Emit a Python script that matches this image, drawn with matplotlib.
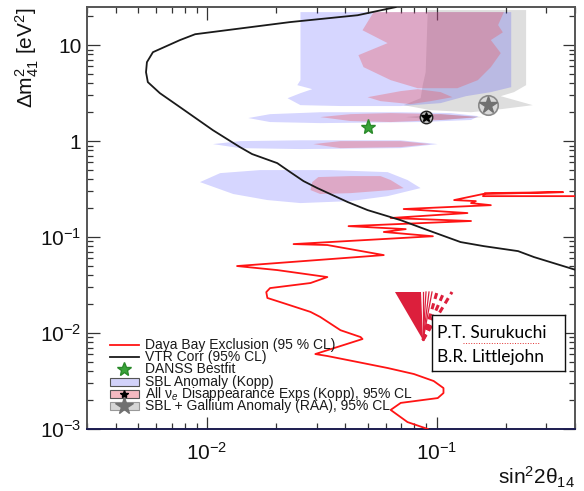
import numpy as np
import matplotlib
matplotlib.use("Agg")
import matplotlib.pyplot as plt
from matplotlib.patches import Polygon, Rectangle
from matplotlib.lines import Line2D
from matplotlib.ticker import LogLocator, FuncFormatter, NullFormatter

plt.rcParams['font.family'] = ['Liberation Sans', 'DejaVu Sans']
plt.rcParams['mathtext.fontset'] = 'custom'
plt.rcParams['mathtext.rm'] = 'Liberation Sans'
plt.rcParams['mathtext.it'] = 'Liberation Sans:italic'
plt.rcParams['mathtext.bf'] = 'Liberation Sans:bold'

# --- Daya Bay exclusion contour (95% CL) ---
db_s2 = [0.405, 0.159, 0.162, 0.355, 0.159, 0.119, 0.148, 0.141, 0.172, 0.0718,
         0.136, 0.0630, 0.141, 0.0413, 0.0733, 0.0588, 0.0962, 0.0238, 0.0334, 0.0588,
         0.0135, 0.0202, 0.0334, 0.0282, 0.0188, 0.0181, 0.0183, 0.0215, 0.0282, 0.0311,
         0.0381, 0.0466, 0.0475, 0.0296, 0.0334, 0.0452, 0.0611, 0.0795, 0.0970, 0.107,
         0.107, 0.101, 0.0697, 0.0630, 0.0746, 0.0914]
db_dm2 = [0.267, 0.267, 0.287, 0.294, 0.281, 0.243, 0.237, 0.226, 0.215, 0.196,
          0.178, 0.158, 0.147, 0.130, 0.121, 0.113, 0.102, 0.0845, 0.0826, 0.0649,
          0.0499, 0.0453, 0.0383, 0.0332, 0.0294, 0.0267, 0.0232, 0.0205, 0.0166, 0.0147,
          0.0107, 0.00908, 0.00866, 0.00604, 0.00576, 0.00499, 0.00432, 0.00374, 0.00316, 0.00267,
          0.00237, 0.00210, 0.00187, 0.00158, 0.00118, 0.00100]

# --- VTR correlation contour (95% CL) ---
vtr_s2 = [0.0662, 0.0452, 0.0230, 0.00887, 0.00762, 0.00581, 0.00547, 0.00542, 0.00552,
          0.00623, 0.00762, 0.0106, 0.0139, 0.0157, 0.0202, 0.0230, 0.0263, 0.0302, 0.0409,
          0.0500, 0.0697, 0.0914, 0.127, 0.160, 0.226, 0.265, 0.405]
vtr_dm2 = [24.9, 20.5, 17.4, 13.0, 11.3, 8.45, 6.65, 5.23, 4.12, 3.16, 2.26, 1.30, 0.866,
           0.733, 0.590, 0.476, 0.383, 0.324, 0.232, 0.191, 0.150, 0.118, 0.0887, 0.0805,
           0.0714, 0.0619, 0.0453]

# --- SBL anomaly (Kopp) allowed islands ---
sbl_islands = [
    ([0.0255, 0.211, 0.211, 0.172, 0.134, 0.104, 0.0697, 0.0381, 0.0255, 0.0224, 0.0255, 0.0287, 0.0247, 0.0255],
     [22.1, 22.1, 3.65, 3.24, 2.94, 2.49, 2.32, 2.32, 2.37, 2.80, 3.16, 3.48, 3.83, 4.32]),
    ([0.0151, 0.0188, 0.0311, 0.0697, 0.115, 0.152, 0.141, 0.0851, 0.0311, 0.0188],
     [1.74, 1.91, 2.00, 2.00, 1.96, 1.82, 1.66, 1.58, 1.54, 1.58]),
    ([0.0106, 0.0139, 0.0255, 0.0697, 0.101, 0.0697, 0.0255, 0.0139],
     [0.931, 1.00, 1.02, 1.02, 0.931, 0.845, 0.826, 0.845]),
    ([0.00931, 0.0114, 0.0170, 0.0344, 0.0611, 0.0746, 0.0851, 0.0611, 0.0421, 0.0255, 0.0183, 0.0130],
     [0.374, 0.464, 0.499, 0.499, 0.475, 0.393, 0.324, 0.267, 0.237, 0.226, 0.243, 0.281]),
]

# --- All nu_e disappearance (Kopp) allowed islands ---
dis_islands = [
    ([0.0531, 0.196, 0.185, 0.194, 0.172, 0.190, 0.172, 0.151, 0.123, 0.0826, 0.0630, 0.0480, 0.0456, 0.0611, 0.0475],
     [22.1, 22.1, 16.2, 13.6, 11.3, 8.26, 5.90, 4.32, 3.56, 3.56, 4.32, 5.90, 7.87, 10.5, 14.3]),
    ([0.0500, 0.0697, 0.0826, 0.104, 0.117, 0.0941, 0.0770, 0.0569],
     [2.87, 3.32, 3.48, 3.24, 2.87, 2.61, 2.43, 2.61]),
    ([0.0311, 0.0421, 0.0630, 0.104, 0.151, 0.104, 0.0630, 0.0421],
     [1.78, 1.91, 1.96, 1.91, 1.78, 1.66, 1.58, 1.62]),
    ([0.0290, 0.0381, 0.0697, 0.0941, 0.0697, 0.0381],
     [0.931, 1.00, 1.00, 0.931, 0.866, 0.845]),
    ([0.0287, 0.0305, 0.0421, 0.0569, 0.0630, 0.0718, 0.0630, 0.0421, 0.0311, 0.0282],
     [0.374, 0.422, 0.432, 0.432, 0.393, 0.324, 0.309, 0.287, 0.281, 0.309]),
]

# --- SBL + Gallium anomaly (RAA) allowed islands ---
raa_islands = [
    ([0.0914, 0.245, 0.245, 0.217, 0.190, 0.262, 0.190, 0.141, 0.0941, 0.0718, 0.0851, 0.0869, 0.0895],
     [23.2, 23.2, 3.83, 3.24, 2.94, 2.37, 2.15, 2.00, 2.10, 2.37, 2.80, 3.83, 5.23]),
    ([0.0733, 0.104, 0.160, 0.104],
     [1.78, 1.91, 1.78, 1.66]),
]

# best-fit points (sin^2 2theta, dm^2)
danss_bf = (0.050, 1.40)
kopp_bf = (0.090, 1.78)
raa_bf = (0.167, 2.37)

legend_labels = ['Daya Bay Exclusion (95 % CL)', 'VTR Corr (95% CL)', 'DANSS Bestfit',
                 'SBL Anomaly (Kopp)', 'All ν$_{e}$ Disappearance Exps (Kopp), 95% CL',
                 'SBL + Gallium Anomaly (RAA), 95% CL']

fig = plt.figure(figsize=(5.84, 4.91), dpi=100)
ax = fig.add_axes([0.149, 0.1263, 0.8356, 0.8595])
ax.set_xscale('log')
ax.set_yscale('log')
ax.set_xlim(3e-3, 0.4)
ax.set_ylim(1e-3, 25)

def fill_islands(islands, color, alpha, z):
    for xs, ys in islands:
        ax.add_patch(Polygon(np.column_stack([xs, ys]), closed=True, facecolor=color,
                             edgecolor='none', alpha=alpha, zorder=z))

fill_islands(raa_islands, (0.5, 0.5, 0.5), 0.26, 1)
fill_islands(sbl_islands, (0.0, 0.0, 1.0), 0.16, 2)
fill_islands(dis_islands, (0.92, 0.35, 0.38), 0.36, 3)

ax.plot(db_s2, db_dm2, color='#ff1414', lw=1.3, zorder=4)
ax.plot(vtr_s2, vtr_dm2, color='#1a1a1a', lw=1.3, zorder=4)

ax.plot(*danss_bf, marker='*', ms=11, color='#3aa33a', mec='#2a8a2a', zorder=6)
ax.plot(*kopp_bf, marker='o', ms=9, mfc='#bbbbbb', mec='#222222', mew=1.0, zorder=6)
ax.plot(*kopp_bf, marker='*', ms=7, color='black', zorder=7)
ax.plot(*raa_bf, marker='o', ms=14, mfc='#d8d8d8', mec='#8a8a8a', mew=1.2, zorder=6)
ax.plot(*raa_bf, marker='*', ms=13, color='#707070', zorder=7)

# axes / ticks
def dec_fmt(v, pos):
    e = int(round(np.log10(v)))
    if e == 0:
        return '1'
    if e == 1:
        return '10'
    return r'$10^{%d}$' % e

for axis in (ax.xaxis, ax.yaxis):
    axis.set_major_locator(LogLocator(base=10))
    axis.set_minor_locator(LogLocator(base=10, subs=np.arange(2, 10)))
    axis.set_major_formatter(FuncFormatter(dec_fmt))
    axis.set_minor_formatter(NullFormatter())

ax.tick_params(which='both', direction='in', top=True, right=True, color='#333333', width=0.9,
               labelsize=15, labelcolor='#111111')
ax.tick_params(which='major', length=9)
ax.tick_params(which='minor', length=4.5)
ax.tick_params(axis='x', pad=9)
ax.tick_params(axis='y', pad=4)
for s in ax.spines.values():
    s.set_linewidth(1.4)
    s.set_color('#555555')
ax.spines['bottom'].set_color('#1c1c50')

fig.text(27 / 584, 1 - 7 / 491, 'Δm$^{2}_{41}$ [eV$^{2}$]', rotation=90, ha='center', va='top',
         fontsize=15, color='#111111')
fig.text(575 / 584, 1 - 484 / 491, 'sin$^{2}$2θ$_{14}$', ha='right', va='baseline',
         fontsize=15, color='#111111')

# legend, drawn row by row in axes coordinates
row_y = [(429 - (345 + i * 12.2)) / 422 for i in range(6)]
hx0, hx1, tx = 0.047, 0.1066, 0.119
hmid = (hx0 + hx1) / 2
bh = 8 / 422
tr = ax.transAxes
ax.add_line(Line2D([hx0, hx1], [row_y[0]] * 2, color='#ff1414', lw=1.3, transform=tr, zorder=8))
ax.add_line(Line2D([hx0, hx1], [row_y[1]] * 2, color='#1a1a1a', lw=1.3, transform=tr, zorder=8))
ax.add_line(Line2D([hmid], [row_y[2]], marker='*', ms=10, color='#3aa33a', mec='#2a8a2a',
                   transform=tr, zorder=8))
box_styles = [('#d2d2fa', '#555555'), ('#f3b9c0', '#555555'), ('#d6d6d6', '#999999')]
for k, (fc, ec) in enumerate(box_styles):
    y = row_y[3 + k]
    ax.add_patch(Rectangle((hx0, y - bh / 2), hx1 - hx0, bh, facecolor=fc, edgecolor=ec,
                           lw=0.8, transform=tr, zorder=8))
ax.add_line(Line2D([hmid], [row_y[4]], marker='*', ms=6, color='black', transform=tr, zorder=9))
ax.add_line(Line2D([hmid], [row_y[5]], marker='*', ms=13, color='#707070', transform=tr, zorder=9))
for y, lab in zip(row_y, legend_labels):
    ax.text(tx, y, lab, transform=tr, fontsize=10, va='center', ha='left', color='#1a1a1a', zorder=9)

# logo
lg = fig.add_axes([395 / 584, 1 - 342 / 491, 60 / 584, 52 / 491])
lg.set_xlim(0, 60)
lg.set_ylim(52, 0)
lg.axis('off')
crimson = '#dc1f3c'
lg.add_patch(Polygon([(0, 2), (26, 2), (28, 50)], closed=True, facecolor=crimson, edgecolor='none'))
for xt in (28, 31, 34, 37):
    lg.plot([28, xt], [50, 2], color=crimson, lw=0.9)
for xt in (42, 49, 57):
    lg.plot([28, xt], [50, 2], color=crimson, lw=2.2, dashes=(2, 1.5))

# author box
bx = fig.add_axes([432 / 584, 1 - 371 / 491, 133 / 584, 56 / 491])
bx.set_xticks([])
bx.set_yticks([])
for s in bx.spines.values():
    s.set_linewidth(1.0)
    s.set_color('#111111')
bx.text(0.04, 0.68, 'P.T. Surukuchi', transform=bx.transAxes, fontsize=12.5, family='Lato',
        va='center', ha='left', color='black')
bx.text(0.04, 0.25, 'B.R. Littlejohn', transform=bx.transAxes, fontsize=12.5, family='Lato',
        va='center', ha='left', color='black')
bx.plot([0.233, 0.81], [0.5, 0.5], color='#e03030', lw=0.7, ls=':', transform=bx.transAxes)

fig.savefig('out.png', dpi=100)
